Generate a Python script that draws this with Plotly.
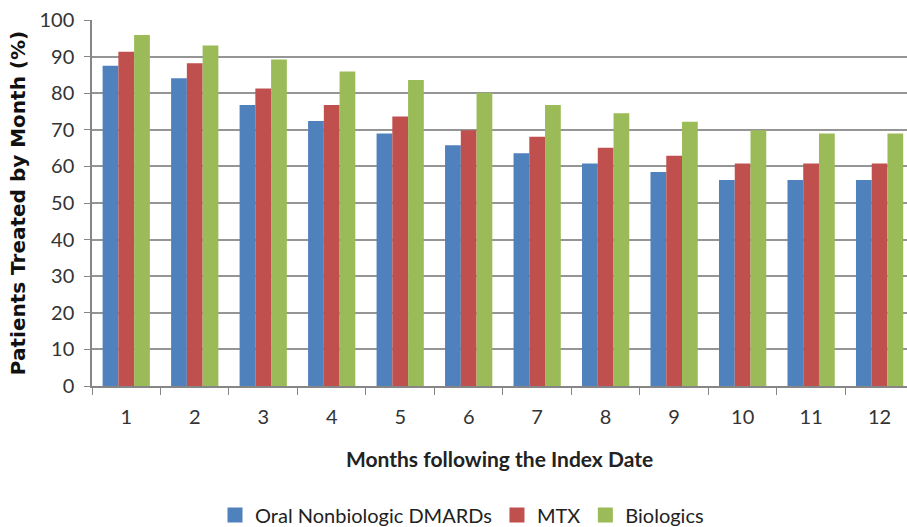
import plotly.graph_objects as go

months = ["1", "2", "3", "4", "5", "6", "7", "8", "9", "10", "11", "12"]
oral_dmards = [87.5, 84.1, 76.8, 72.4, 69.0, 65.8, 63.6, 60.8, 58.5, 56.3, 56.3, 56.3]
mtx = [91.3, 88.2, 81.3, 76.8, 73.6, 69.9, 68.1, 65.1, 62.9, 60.8, 60.8, 60.8]
biologics = [95.9, 93.0, 89.2, 85.9, 83.6, 80.1, 76.8, 74.5, 72.2, 69.9, 69.0, 69.0]

series = [
    ("Oral Nonbiologic DMARDs", oral_dmards, "#4F81BD"),
    ("MTX", mtx, "#C0504D"),
    ("Biologics", biologics, "#9BBB59"),
]

fig = go.Figure()
for name, vals, color in series:
    fig.add_trace(go.Bar(x=months, y=vals, name=name, marker_color=color,
                         marker_line_width=0, showlegend=False))
# legend proxies with larger square swatches
for name, vals, color in series:
    fig.add_trace(go.Scatter(x=[None], y=[None], mode="markers", name=name,
                             marker=dict(symbol="square", size=15, color=color)))

font_family = "Lato, 'Open Sans', sans-serif"
fig.update_layout(
    width=907, height=527,
    margin=dict(l=92, r=0, t=20, b=141),
    paper_bgcolor="white", plot_bgcolor="white",
    barmode="group", bargap=0.31, bargroupgap=0,
    font=dict(family=font_family, size=16, color="#333333"),
    showlegend=True,
    legend=dict(orientation="h", x=0.454, xanchor="center",
                yref="container", y=0.023, yanchor="middle",
                font=dict(size=20, color="#222222"), itemwidth=30,
                itemsizing="trace", traceorder="normal"),
    xaxis=dict(
        type="category", range=[-0.5, 11.4], automargin=False,
        showline=True, linecolor="#868686", linewidth=1.5,
        ticks="outside", tickson="boundaries", ticklen=7, tickcolor="#868686",
        ticklabelstandoff=12,
        showgrid=False,
        tickfont=dict(size=20, color="#333333"),
        title=dict(text="<b>Months following the Index Date</b>", standoff=26,
                   font=dict(size=21, color="#222222")),
    ),
    yaxis=dict(
        range=[0, 100], dtick=10, tick0=0, automargin=False,
        showline=True, linecolor="#868686", linewidth=1.5,
        ticks="outside", ticklen=6, tickcolor="#868686",
        ticklabelstandoff=6,
        showgrid=True, gridcolor="#959595", gridwidth=1.5,
        zeroline=False,
        tickfont=dict(size=20, color="#333333"),
        title=dict(text="<b>Patients Treated by Month (%)</b>", standoff=8,
                   font=dict(family="'DejaVu Sans', sans-serif", size=20, color="#111111")),
    ),
)

fig.write_html("out.html", post_script="document.body.style.margin='0';",
               config={"displayModeBar": False})
